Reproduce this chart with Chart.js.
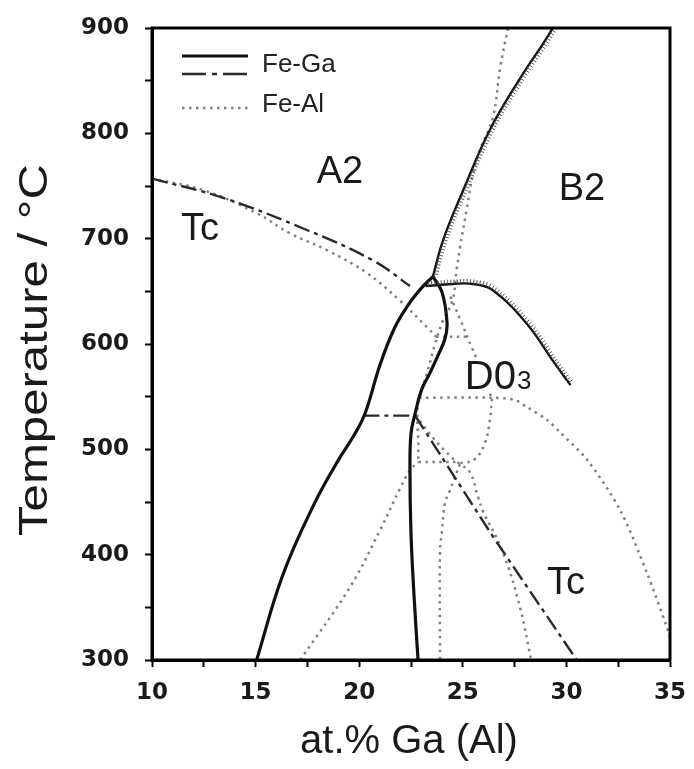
<!DOCTYPE html>
<html>
<head>
<meta charset="utf-8">
<script src="https://cdn.jsdelivr.net/npm/chart.js@4.4.1/dist/chart.umd.min.js"></script>
<style>
  html, body { margin: 0; padding: 0; background: #fff; }
  #wrap { width: 694px; height: 769px; }
</style>
</head>
<body>
<div id="wrap"><canvas id="phaseChart" width="694" height="769"></canvas></div>
<script>
// axis ticks
const xTickLabels = [10, 15, 20, 25, 30, 35];
const yTickLabels = [300, 400, 500, 600, 700, 800, 900];

// ---- Fe-Ga (solid / dash-dot / hatched) ----
const gaLeftX  = [15.05, 16.3, 17.8, 19.0, 19.8, 20.3, 21.0, 21.7, 22.4, 23.0, 23.56];
const gaLeftT  = [300, 380, 447, 490, 515, 535, 580, 615, 638, 653, 664];
const gaRightX = [23.56, 24.0, 24.24, 24.14, 23.8, 23.4, 23.0, 22.7, 22.5, 22.45, 22.5, 22.65, 22.84];
const gaRightT = [664, 649, 620, 605, 589, 572, 556, 534, 515, 480, 420, 360, 300];

const gaTcHighX = [10, 13.4, 17.5, 20.7, 22.45];
const gaTcHighT = [757, 739, 708, 679, 655];
const gaTieX = [20.2, 22.7];
const gaTieT = [532, 532];
const gaTcLowX = [22.7, 26.46, 30.5];
const gaTcLowT = [532, 417, 300];

const gaB2X = [23.56, 24.04, 25.0, 26.3, 27.76, 28.87, 29.35];
const gaB2T = [664, 698, 745, 803, 852, 885, 900];
const gaDomeX = [23.2, 24.5, 25.5, 26.45, 28.1, 29.35, 30.2];
const gaDomeT = [655, 657, 657, 651, 619, 584, 561];

// ---- Fe-Al (dotted) ----
const alTcX = [10, 12.5, 15.07, 16.66, 18.45, 20.4, 21.97, 23.27, 23.7];
const alTcT = [757, 746, 724, 705, 689, 667, 641, 616, 607];
const alTcTieX = [23.7, 25.3];
const alTcTieT = [607, 607];
const alA2B2X = [27.18, 26.8, 26.45, 25.8, 25.5, 25.2, 24.86, 24.7, 24.5, 24.04, 23.66, 23.27, 22.9, 22.8, 22.85, 22.85];
const alA2B2T = [900, 862, 815, 783, 762, 729, 691, 670, 641, 622, 600, 572, 549, 530, 510, 488];
const alB2D03X = [24.4, 24.86, 25.45, 25.8, 26.4];
const alB2D03T = [645, 624, 596, 580, 548];
const alSmallX = [26.4, 26.3, 26.07, 25.6, 25.0, 24.86];
const alSmallT = [548, 527, 506, 491, 487, 488];
const alDomeX = [22.9, 26.4, 27.5, 28.1, 29.06, 29.7, 31.0, 32.6, 33.9, 34.85, 35];
const alDomeT = [549, 549, 547, 540, 528, 516, 490, 442, 382, 331, 322];
const alTieLowX = [22.85, 24.86];
const alTieLowT = [488, 488];
const alTcLowX = [22.93, 23.56, 24.53, 24.86, 25.35, 25.75, 25.98, 26.9, 27.76, 28.3];
const alTcLowT = [527, 511, 491, 486, 478, 454, 441, 404, 350, 300];
const alLegX = [24.86, 24.38, 24.14, 24.0, 23.9, 23.9];
const alLegT = [486, 461, 449, 423, 404, 300];
const alLeftX = [17.15, 19.55, 21.0, 22.0, 22.45, 22.85];
const alLeftT = [300, 369, 423, 464, 480, 488];

function pts(xs, ts) {
  return xs.map((x, i) => ({ x: x, y: ts[i] }));
}

const solid = { borderColor: '#111', borderWidth: 3.2, tension: 0.4 };
const dashDot = { borderColor: '#2a2a2a', borderWidth: 2.4, borderDash: [16, 5, 4, 5], tension: 0.4 };
const dotted = { borderColor: '#808080', borderWidth: 2.5, borderDash: [2.5, 4.5], tension: 0.4 };

function line(data, style, extra) {
  return Object.assign({ data: data, showLine: true, pointRadius: 0, fill: false }, style, extra || {});
}

const datasets = [
  line(pts(gaLeftX, gaLeftT), solid),
  line(pts(gaRightX, gaRightT), solid),
  line(pts(gaB2X, gaB2T), { borderColor: '#111', borderWidth: 2.4, tension: 0.4 }, { hatchSide: 1 }),
  line(pts(gaDomeX, gaDomeT), { borderColor: '#111', borderWidth: 2.4, tension: 0.4 }, { hatchSide: -1 }),
  line(pts(gaTcHighX, gaTcHighT), dashDot),
  line(pts(gaTieX, gaTieT), dashDot),
  line(pts(gaTcLowX, gaTcLowT), dashDot, { tension: 0 }),
  line(pts(alTcX, alTcT), dotted),
  line(pts(alTcTieX, alTcTieT), dotted),
  line(pts(alA2B2X, alA2B2T), dotted),
  line(pts(alB2D03X, alB2D03T), dotted),
  line(pts(alSmallX, alSmallT), dotted),
  line(pts(alDomeX, alDomeT), dotted, { tension: 0.3 }),
  line(pts(alTieLowX, alTieLowT), dotted),
  line(pts(alTcLowX, alTcLowT), dotted),
  line(pts(alLegX, alLegT), dotted),
  line(pts(alLeftX, alLeftT), dotted)
];

const regionLabels = [
  { text: 'A2', x: 19.07, t: 763 },
  { text: 'B2', x: 30.75, t: 747 },
  { text: 'Tc', x: 12.32, t: 709 },
  { text: 'Tc', x: 29.98, t: 373 }
];

// short perpendicular ticks along a curve (ordering lines)
const hatchPlugin = {
  id: 'hatch',
  afterDatasetsDraw(chart) {
    const ctx = chart.ctx;
    chart.data.datasets.forEach((ds, di) => {
      if (!ds.hatchSide) return;
      const els = chart.getDatasetMeta(di).data;
      const smp = [];
      for (let i = 0; i < els.length - 1; i++) {
        const a = els[i], b = els[i + 1];
        const c1x = a.cp2x !== undefined ? a.cp2x : a.x, c1y = a.cp2y !== undefined ? a.cp2y : a.y;
        const c2x = b.cp1x !== undefined ? b.cp1x : b.x, c2y = b.cp1y !== undefined ? b.cp1y : b.y;
        for (let s = 0; s < 24; s++) {
          const t = s / 24, u = 1 - t;
          smp.push({
            x: u*u*u*a.x + 3*u*u*t*c1x + 3*u*t*t*c2x + t*t*t*b.x,
            y: u*u*u*a.y + 3*u*u*t*c1y + 3*u*t*t*c2y + t*t*t*b.y
          });
        }
      }
      smp.push({ x: els[els.length - 1].x, y: els[els.length - 1].y });
      ctx.save();
      ctx.beginPath();
      ctx.rect(chart.chartArea.left, chart.chartArea.top, chart.chartArea.width, chart.chartArea.height);
      ctx.clip();
      ctx.strokeStyle = '#555';
      ctx.lineWidth = 1;
      let acc = 0;
      const step = 3.2, len = 4.5;
      for (let i = 1; i < smp.length; i++) {
        const dx = smp[i].x - smp[i-1].x, dy = smp[i].y - smp[i-1].y;
        const d = Math.hypot(dx, dy);
        if (d === 0) continue;
        const nx = -dy / d * ds.hatchSide, ny = dx / d * ds.hatchSide;
        acc += d;
        while (acc >= step) {
          acc -= step;
          const f = 1 - acc / d;
          const px = smp[i-1].x + dx * f, py = smp[i-1].y + dy * f;
          ctx.beginPath();
          ctx.moveTo(px, py);
          ctx.lineTo(px + nx * len, py + ny * len);
          ctx.stroke();
        }
      }
      ctx.restore();
    });
  }
};

function stretchedText(ctx, text, x, y, font, rotate, targetLen) {
  ctx.save();
  ctx.font = font;
  ctx.translate(x, y);
  if (rotate) ctx.rotate(rotate);
  const w = ctx.measureText(text).width;
  if (targetLen) ctx.scale(targetLen / w, 1);
  ctx.textAlign = 'center';
  ctx.textBaseline = 'middle';
  ctx.fillText(text, 0, 0);
  ctx.restore();
}

const textPlugin = {
  id: 'texts',
  afterDraw(chart) {
    const ctx = chart.ctx;
    const xs = chart.scales.x, ys = chart.scales.y;
    const area = chart.chartArea;

    // frame
    ctx.save();
    ctx.strokeStyle = '#000';
    ctx.lineWidth = 3;
    ctx.strokeRect(area.left, area.top, area.right - area.left, area.bottom - area.top);
    ctx.restore();

    ctx.save();
    ctx.fillStyle = '#1a1a1a';
    regionLabels.forEach(l => {
      ctx.font = '38px "Liberation Sans"';
      ctx.textAlign = 'center';
      ctx.textBaseline = 'middle';
      ctx.fillText(l.text, xs.getPixelForValue(l.x), ys.getPixelForValue(l.t));
    });

    // D0 with subscript 3
    const dx = xs.getPixelForValue(25.1), dy = ys.getPixelForValue(557);
    ctx.font = '40px "Liberation Sans"';
    const dW = ctx.measureText('D0').width;
    ctx.fillStyle = '#fff';
    ctx.fillRect(dx - 2, dy - 30, dW + 22, 34);
    ctx.fillStyle = '#1a1a1a';
    ctx.textAlign = 'left';
    ctx.textBaseline = 'alphabetic';
    ctx.fillText('D0', dx, dy);
    ctx.font = '26px "Liberation Sans"';
    ctx.fillText('3', dx + dW + 1, dy);

    // legend
    const lx0 = area.left + 30, lx1 = area.left + 96;
    ctx.lineWidth = 3;
    ctx.strokeStyle = '#111';
    ctx.beginPath(); ctx.moveTo(lx0, area.top + 28); ctx.lineTo(lx1, area.top + 28); ctx.stroke();
    ctx.lineWidth = 2.4;
    ctx.strokeStyle = '#2a2a2a';
    ctx.setLineDash([24, 6, 5, 6]);
    ctx.beginPath(); ctx.moveTo(lx0, area.top + 46); ctx.lineTo(lx1, area.top + 46); ctx.stroke();
    ctx.strokeStyle = '#808080';
    ctx.setLineDash([2.5, 4.5]);
    ctx.beginPath(); ctx.moveTo(lx0, area.top + 80); ctx.lineTo(lx1, area.top + 80); ctx.stroke();
    ctx.setLineDash([]);
    ctx.fillStyle = '#222';
    ctx.font = '26px "Liberation Sans"';
    ctx.textAlign = 'left';
    ctx.textBaseline = 'middle';
    ctx.fillText('Fe-Ga', area.left + 110, area.top + 37);
    ctx.fillText('Fe-Al', area.left + 110, area.top + 77);

    // axis titles
    ctx.fillStyle = '#1a1a1a';
    stretchedText(ctx, 'Temperature / °C', 36, 350, '40px "Liberation Sans"', -Math.PI / 2, 372);
    stretchedText(ctx, 'at.% Ga (Al)', (area.left + area.right) / 2 - 2, 742, '40px "Liberation Sans"', 0, 0);
    ctx.restore();
  }
};

new Chart(document.getElementById('phaseChart').getContext('2d'), {
  type: 'scatter',
  data: { datasets: datasets },
  options: {
    responsive: false,
    animation: false,
    devicePixelRatio: 1,
    layout: { padding: { top: 28, right: 24, left: 0, bottom: 0 } },
    plugins: { legend: { display: false }, tooltip: { enabled: false } },
    scales: {
      x: {
        type: 'linear',
        min: 10, max: 35,
        afterFit(scale) {
          scale.height = 109;
          scale.paddingLeft = 0;
          scale.paddingRight = 0;
        },
        border: { display: true, color: '#000', width: 3 },
        grid: { drawOnChartArea: false, drawTicks: true, tickLength: 7, tickWidth: 2, tickColor: '#000' },
        ticks: {
          stepSize: 2.5,
          autoSkip: false,
          maxRotation: 0,
          padding: 12,
          color: '#1a1a1a',
          font: { family: 'DejaVu Sans', size: 23, weight: 'bold' },
          callback: v => xTickLabels.includes(v) ? String(v) : ''
        }
      },
      y: {
        type: 'linear',
        min: 300, max: 900,
        afterFit(scale) {
          scale.width = 152;
          scale.paddingTop = 0;
          scale.paddingBottom = 0;
        },
        border: { display: true, color: '#000', width: 3 },
        grid: { drawOnChartArea: false, drawTicks: true, tickLength: 7, tickWidth: 2, tickColor: '#000' },
        ticks: {
          stepSize: 50,
          autoSkip: false,
          padding: 16,
          color: '#1a1a1a',
          font: { family: 'DejaVu Sans', size: 23, weight: 'bold' },
          callback: v => yTickLabels.includes(v) ? String(v) : ''
        }
      }
    }
  },
  plugins: [hatchPlugin, textPlugin]
});
</script>
</body>
</html>
